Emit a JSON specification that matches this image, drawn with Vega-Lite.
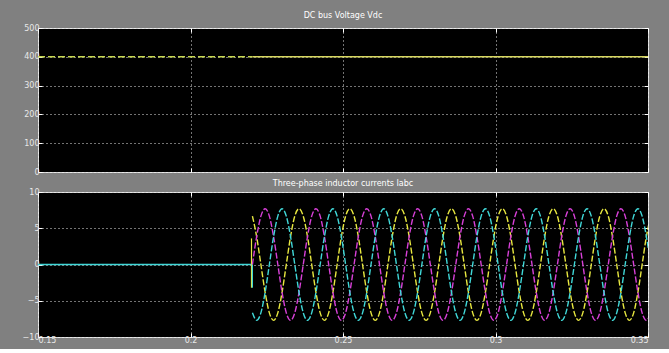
{
  "$schema": "https://vega.github.io/schema/vega-lite/v6.json",
  "background": "#808080",
  "padding": {"left": 21, "top": 11, "right": 21, "bottom": 4},
  "spacing": 2,
  "resolve": {"scale": {"color": "independent", "strokeDash": "independent"}},
  "config": {
    "view": {"fill": "#000000", "stroke": "#d8d8d8", "strokeWidth": 1},
    "axis": {"labelColor": "#e8e8e8", "labelFont": "DejaVu Sans", "labelFontSize": 8, "domain": false, "tickColor": "#ffffff", "tickSize": -4, "tickWidth": 1, "gridColor": "#ffffff", "gridDash": [1, 3], "gridOpacity": 0.9, "title": null, "labelPadding": 3},
    "title": {"color": "#ffffff", "fontSize": 8, "fontWeight": "normal", "font": "DejaVu Sans", "offset": 4}
  },
  "datasets": {
    "vdc": [
      {"t": 0.15, "v": 400, "seg": "pre"},
      {"t": 0.2203, "v": 400, "seg": "pre"},
      {"t": 0.2203, "v": 400, "seg": "post"},
      {"t": 0.35, "v": 400, "seg": "post"}
    ],
    "pre": [
      {"t": 0.15, "I": 0, "phase": "Ic"},
      {"t": 0.2203, "I": 0, "phase": "Ic"}
    ],
    "spike": [
      {"t": 0.2200, "lo": -3.2, "hi": 3.6, "phase": "Ia"},
      {"t": 0.2203, "lo": -3.2, "hi": 0, "phase": "Ic"}
    ],
    "iabc": [
      {"t": 0.22030, "Ia": 6.67, "Ib": 0, "Ic": -6.67},
      {"t": 0.22169, "Ia": 3.85, "Ib": 3.85, "Ic": -7.7},
      {"t": 0.22308, "Ia": 0, "Ib": 6.67, "Ic": -6.67},
      {"t": 0.22447, "Ia": -3.85, "Ib": 7.7, "Ic": -3.85},
      {"t": 0.22586, "Ia": -6.67, "Ib": 6.67, "Ic": 0},
      {"t": 0.22724, "Ia": -7.7, "Ib": 3.85, "Ic": 3.85},
      {"t": 0.22863, "Ia": -6.67, "Ib": 0, "Ic": 6.67},
      {"t": 0.23002, "Ia": -3.85, "Ib": -3.85, "Ic": 7.7},
      {"t": 0.23141, "Ia": 0, "Ib": -6.67, "Ic": 6.67},
      {"t": 0.23280, "Ia": 3.85, "Ib": -7.7, "Ic": 3.85},
      {"t": 0.23419, "Ia": 6.67, "Ib": -6.67, "Ic": 0},
      {"t": 0.23558, "Ia": 7.7, "Ib": -3.85, "Ic": -3.85},
      {"t": 0.23697, "Ia": 6.67, "Ib": 0, "Ic": -6.67},
      {"t": 0.23836, "Ia": 3.85, "Ib": 3.85, "Ic": -7.7},
      {"t": 0.23974, "Ia": 0, "Ib": 6.67, "Ic": -6.67},
      {"t": 0.24113, "Ia": -3.85, "Ib": 7.7, "Ic": -3.85},
      {"t": 0.24252, "Ia": -6.67, "Ib": 6.67, "Ic": 0},
      {"t": 0.24391, "Ia": -7.7, "Ib": 3.85, "Ic": 3.85},
      {"t": 0.24530, "Ia": -6.67, "Ib": 0, "Ic": 6.67},
      {"t": 0.24669, "Ia": -3.85, "Ib": -3.85, "Ic": 7.7},
      {"t": 0.24808, "Ia": 0, "Ib": -6.67, "Ic": 6.67},
      {"t": 0.24947, "Ia": 3.85, "Ib": -7.7, "Ic": 3.85},
      {"t": 0.25086, "Ia": 6.67, "Ib": -6.67, "Ic": 0},
      {"t": 0.25224, "Ia": 7.7, "Ib": -3.85, "Ic": -3.85},
      {"t": 0.25363, "Ia": 6.67, "Ib": 0, "Ic": -6.67},
      {"t": 0.25502, "Ia": 3.85, "Ib": 3.85, "Ic": -7.7},
      {"t": 0.25641, "Ia": 0, "Ib": 6.67, "Ic": -6.67},
      {"t": 0.25780, "Ia": -3.85, "Ib": 7.7, "Ic": -3.85},
      {"t": 0.25919, "Ia": -6.67, "Ib": 6.67, "Ic": 0},
      {"t": 0.26058, "Ia": -7.7, "Ib": 3.85, "Ic": 3.85},
      {"t": 0.26197, "Ia": -6.67, "Ib": 0, "Ic": 6.67},
      {"t": 0.26336, "Ia": -3.85, "Ib": -3.85, "Ic": 7.7},
      {"t": 0.26474, "Ia": 0, "Ib": -6.67, "Ic": 6.67},
      {"t": 0.26613, "Ia": 3.85, "Ib": -7.7, "Ic": 3.85},
      {"t": 0.26752, "Ia": 6.67, "Ib": -6.67, "Ic": 0},
      {"t": 0.26891, "Ia": 7.7, "Ib": -3.85, "Ic": -3.85},
      {"t": 0.27030, "Ia": 6.67, "Ib": 0, "Ic": -6.67},
      {"t": 0.27169, "Ia": 3.85, "Ib": 3.85, "Ic": -7.7},
      {"t": 0.27308, "Ia": 0, "Ib": 6.67, "Ic": -6.67},
      {"t": 0.27447, "Ia": -3.85, "Ib": 7.7, "Ic": -3.85},
      {"t": 0.27586, "Ia": -6.67, "Ib": 6.67, "Ic": 0},
      {"t": 0.27724, "Ia": -7.7, "Ib": 3.85, "Ic": 3.85},
      {"t": 0.27863, "Ia": -6.67, "Ib": 0, "Ic": 6.67},
      {"t": 0.28002, "Ia": -3.85, "Ib": -3.85, "Ic": 7.7},
      {"t": 0.28141, "Ia": 0, "Ib": -6.67, "Ic": 6.67},
      {"t": 0.28280, "Ia": 3.85, "Ib": -7.7, "Ic": 3.85},
      {"t": 0.28419, "Ia": 6.67, "Ib": -6.67, "Ic": 0},
      {"t": 0.28558, "Ia": 7.7, "Ib": -3.85, "Ic": -3.85},
      {"t": 0.28697, "Ia": 6.67, "Ib": 0, "Ic": -6.67},
      {"t": 0.28836, "Ia": 3.85, "Ib": 3.85, "Ic": -7.7},
      {"t": 0.28974, "Ia": 0, "Ib": 6.67, "Ic": -6.67},
      {"t": 0.29113, "Ia": -3.85, "Ib": 7.7, "Ic": -3.85},
      {"t": 0.29252, "Ia": -6.67, "Ib": 6.67, "Ic": 0},
      {"t": 0.29391, "Ia": -7.7, "Ib": 3.85, "Ic": 3.85},
      {"t": 0.29530, "Ia": -6.67, "Ib": 0, "Ic": 6.67},
      {"t": 0.29669, "Ia": -3.85, "Ib": -3.85, "Ic": 7.7},
      {"t": 0.29808, "Ia": 0, "Ib": -6.67, "Ic": 6.67},
      {"t": 0.29947, "Ia": 3.85, "Ib": -7.7, "Ic": 3.85},
      {"t": 0.30086, "Ia": 6.67, "Ib": -6.67, "Ic": 0},
      {"t": 0.30224, "Ia": 7.7, "Ib": -3.85, "Ic": -3.85},
      {"t": 0.30363, "Ia": 6.67, "Ib": 0, "Ic": -6.67},
      {"t": 0.30502, "Ia": 3.85, "Ib": 3.85, "Ic": -7.7},
      {"t": 0.30641, "Ia": 0, "Ib": 6.67, "Ic": -6.67},
      {"t": 0.30780, "Ia": -3.85, "Ib": 7.7, "Ic": -3.85},
      {"t": 0.30919, "Ia": -6.67, "Ib": 6.67, "Ic": 0},
      {"t": 0.31058, "Ia": -7.7, "Ib": 3.85, "Ic": 3.85},
      {"t": 0.31197, "Ia": -6.67, "Ib": 0, "Ic": 6.67},
      {"t": 0.31336, "Ia": -3.85, "Ib": -3.85, "Ic": 7.7},
      {"t": 0.31474, "Ia": 0, "Ib": -6.67, "Ic": 6.67},
      {"t": 0.31613, "Ia": 3.85, "Ib": -7.7, "Ic": 3.85},
      {"t": 0.31752, "Ia": 6.67, "Ib": -6.67, "Ic": 0},
      {"t": 0.31891, "Ia": 7.7, "Ib": -3.85, "Ic": -3.85},
      {"t": 0.32030, "Ia": 6.67, "Ib": 0, "Ic": -6.67},
      {"t": 0.32169, "Ia": 3.85, "Ib": 3.85, "Ic": -7.7},
      {"t": 0.32308, "Ia": 0, "Ib": 6.67, "Ic": -6.67},
      {"t": 0.32447, "Ia": -3.85, "Ib": 7.7, "Ic": -3.85},
      {"t": 0.32586, "Ia": -6.67, "Ib": 6.67, "Ic": 0},
      {"t": 0.32724, "Ia": -7.7, "Ib": 3.85, "Ic": 3.85},
      {"t": 0.32863, "Ia": -6.67, "Ib": 0, "Ic": 6.67},
      {"t": 0.33002, "Ia": -3.85, "Ib": -3.85, "Ic": 7.7},
      {"t": 0.33141, "Ia": 0, "Ib": -6.67, "Ic": 6.67},
      {"t": 0.33280, "Ia": 3.85, "Ib": -7.7, "Ic": 3.85},
      {"t": 0.33419, "Ia": 6.67, "Ib": -6.67, "Ic": 0},
      {"t": 0.33558, "Ia": 7.7, "Ib": -3.85, "Ic": -3.85},
      {"t": 0.33697, "Ia": 6.67, "Ib": 0, "Ic": -6.67},
      {"t": 0.33836, "Ia": 3.85, "Ib": 3.85, "Ic": -7.7},
      {"t": 0.33974, "Ia": 0, "Ib": 6.67, "Ic": -6.67},
      {"t": 0.34113, "Ia": -3.85, "Ib": 7.7, "Ic": -3.85},
      {"t": 0.34252, "Ia": -6.67, "Ib": 6.67, "Ic": 0},
      {"t": 0.34391, "Ia": -7.7, "Ib": 3.85, "Ic": 3.85},
      {"t": 0.34530, "Ia": -6.67, "Ib": 0, "Ic": 6.67},
      {"t": 0.34669, "Ia": -3.85, "Ib": -3.85, "Ic": 7.7},
      {"t": 0.34808, "Ia": 0, "Ib": -6.67, "Ic": 6.67},
      {"t": 0.34947, "Ia": 3.85, "Ib": -7.7, "Ic": 3.85},
      {"t": 0.35086, "Ia": 6.67, "Ib": -6.67, "Ic": 0}
    ]
  },
  "vconcat": [
    {
      "title": "DC bus Voltage Vdc",
      "width": 610,
      "height": 144,
      "layer": [
        {
          "data": {"name": "vdc"},
          "mark": {"type": "line", "strokeWidth": 1.5, "clip": true},
          "encoding": {
            "x": {"field": "t", "type": "quantitative", "scale": {"domain": [0.15, 0.35], "nice": false, "zero": false},
                  "axis": {"values": [0.15, 0.2, 0.25, 0.3, 0.35], "labels": false}},
            "y": {"field": "v", "type": "quantitative", "scale": {"domain": [0, 500], "nice": false},
                  "axis": {"values": [0, 100, 200, 300, 400, 500], "format": "d"}},
            "color": {"field": "seg", "type": "nominal", "scale": {"domain": ["pre", "post"], "range": ["#c8d850", "#d8d860"]}, "legend": null},
            "strokeDash": {"field": "seg", "type": "nominal", "scale": {"domain": ["pre", "post"], "range": [[7, 3], [1, 0]]}, "legend": null}
          }
        },
        {
          "data": {"name": "vdc"},
          "mark": {"type": "line", "opacity": 0},
          "encoding": {
            "x": {"field": "t", "type": "quantitative", "axis": {"orient": "top", "values": [0.15, 0.2, 0.25, 0.3, 0.35], "labels": false, "grid": false}},
            "y": {"field": "v", "type": "quantitative", "axis": {"orient": "right", "values": [0, 100, 200, 300, 400, 500], "labels": false, "grid": false}}
          }
        }
      ],
      "resolve": {"axis": {"x": "independent", "y": "independent"}}
    },
    {
      "title": {"text": "Three-phase inductor currents Iabc", "offset": 0},
      "width": 610,
      "height": 145,
      "layer": [
        {
          "data": {"name": "pre"},
          "mark": {"type": "line", "strokeWidth": 1.5, "clip": true},
          "encoding": {
            "x": {"field": "t", "type": "quantitative", "scale": {"domain": [0.15, 0.35], "nice": false, "zero": false},
                  "axis": {"values": [0.15, 0.2, 0.25, 0.3, 0.35], "format": "~g"}},
            "y": {"field": "I", "type": "quantitative", "scale": {"domain": [-10, 10], "nice": false},
                  "axis": {"values": [-10, -5, 0, 5, 10], "format": "d"}},
            "color": {"field": "phase", "type": "nominal", "scale": {"domain": ["Ia", "Ib", "Ic"], "range": ["#e8e840", "#d840d8", "#40d8d8"]}, "legend": null}
          }
        },
        {
          "data": {"name": "spike"},
          "mark": {"type": "rule", "strokeWidth": 1.2},
          "encoding": {
            "x": {"field": "t", "type": "quantitative", "axis": null},
            "y": {"field": "lo", "type": "quantitative", "axis": null},
            "y2": {"field": "hi"},
            "color": {"field": "phase", "type": "nominal", "legend": null}
          }
        },
        {
          "data": {"name": "iabc"},
          "transform": [{"fold": ["Ia", "Ib", "Ic"], "as": ["phase", "I"]}],
          "mark": {"type": "line", "strokeWidth": 1.4, "interpolate": "monotone", "strokeDash": [6, 2], "clip": true},
          "encoding": {
            "x": {"field": "t", "type": "quantitative", "axis": null},
            "y": {"field": "I", "type": "quantitative", "axis": null},
            "color": {"field": "phase", "type": "nominal", "legend": null}
          }
        },
        {
          "data": {"name": "pre"},
          "mark": {"type": "line", "opacity": 0},
          "encoding": {
            "x": {"field": "t", "type": "quantitative", "axis": {"orient": "top", "values": [0.15, 0.2, 0.25, 0.3, 0.35], "labels": false, "grid": false}},
            "y": {"field": "I", "type": "quantitative", "axis": {"orient": "right", "values": [-10, -5, 0, 5, 10], "labels": false, "grid": false}}
          }
        }
      ],
      "resolve": {"axis": {"x": "independent", "y": "independent"}}
    }
  ]
}
